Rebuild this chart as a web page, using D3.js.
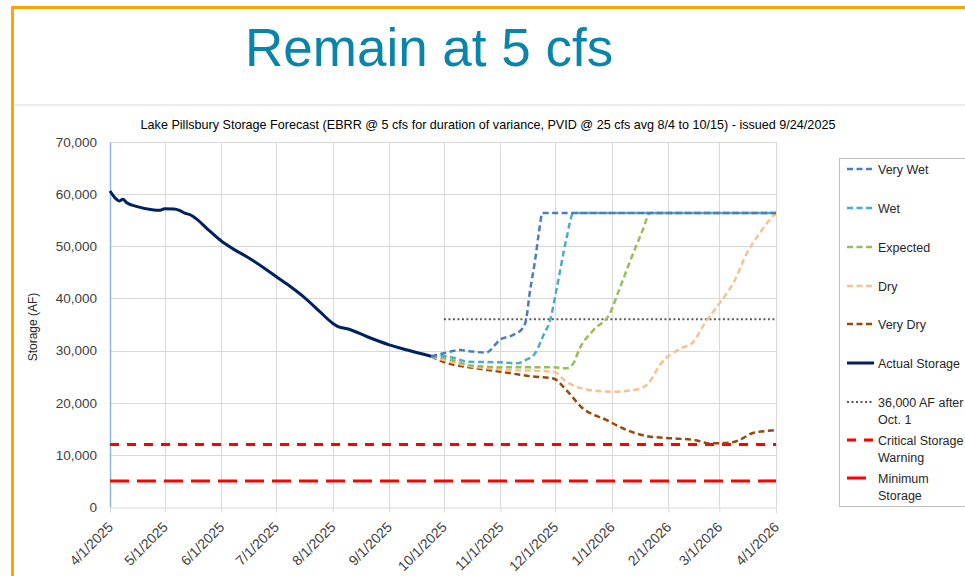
<!DOCTYPE html>
<html>
<head>
<meta charset="utf-8">
<script src="https://cdn.jsdelivr.net/npm/d3@7"></script>
<style>
  html, body { margin: 0; padding: 0; background: #fff; }
  body { font-family: "Liberation Sans", Arial, sans-serif; }
</style>
</head>
<body>
<div id="container"><svg></svg></div>
<script>
let width = 965, height = 576;

// chart data (date, acre-feet)
let actualStorage = [
  ["2025-04-01", 60600], ["2025-04-04", 59200], ["2025-04-06", 58700], ["2025-04-08", 59000],
  ["2025-04-10", 58400], ["2025-04-16", 57600], ["2025-04-25", 56950], ["2025-04-28", 56900],
  ["2025-05-01", 57200], ["2025-05-06", 57150], ["2025-05-09", 56900], ["2025-05-12", 56350],
  ["2025-05-15", 56050], ["2025-05-18", 55350], ["2025-05-24", 53450], ["2025-06-01", 51000],
  ["2025-06-07", 49600], ["2025-06-15", 48000], ["2025-06-24", 45950], ["2025-07-01", 44200],
  ["2025-07-09", 42250], ["2025-07-16", 40350], ["2025-07-25", 37450], ["2025-08-01", 35250],
  ["2025-08-04", 34600], ["2025-08-10", 34100], ["2025-08-20", 32650], ["2025-09-01", 31100],
  ["2025-09-11", 30100], ["2025-09-24", 28900]
];
let veryWet = [
  ["2025-09-24", 28900], ["2025-10-01", 29500], ["2025-10-10", 30100], ["2025-10-17", 29800],
  ["2025-10-24", 29600], ["2025-11-01", 32150], ["2025-11-08", 33000], ["2025-11-13", 34250],
  ["2025-11-15", 35850], ["2025-11-17", 41000], ["2025-11-20", 47400], ["2025-11-22", 52500],
  ["2025-11-24", 56400], ["2026-04-01", 56400]
];
let wet = [
  ["2025-09-24", 28900], ["2025-10-01", 28950], ["2025-10-15", 27850], ["2025-11-01", 27750],
  ["2025-11-10", 27550], ["2025-11-15", 28200], ["2025-11-20", 29500], ["2025-11-25", 33300],
  ["2025-11-28", 35550], ["2025-12-02", 42250], ["2025-12-07", 51200], ["2025-12-11", 56400],
  ["2026-04-01", 56400]
];
let expected = [
  ["2025-09-24", 28900], ["2025-10-01", 28550], ["2025-10-17", 27100], ["2025-11-03", 26800],
  ["2025-11-30", 26800], ["2025-12-07", 26600], ["2025-12-11", 27550], ["2025-12-14", 30100],
  ["2025-12-22", 33950], ["2025-12-31", 37150], ["2026-01-05", 41600], ["2026-01-12", 48000],
  ["2026-01-18", 53150], ["2026-01-22", 56400], ["2026-04-01", 56400]
];
let dry = [
  ["2025-09-24", 28900], ["2025-10-01", 28200], ["2025-10-17", 26900], ["2025-11-03", 26350],
  ["2025-11-30", 25950], ["2025-12-07", 24050], ["2025-12-18", 22550], ["2026-01-01", 22100],
  ["2026-01-15", 22550], ["2026-01-21", 23700], ["2026-01-28", 27550], ["2026-02-08", 30450],
  ["2026-02-14", 31400], ["2026-02-21", 35250], ["2026-03-01", 39050], ["2026-03-09", 43200],
  ["2026-03-16", 48650], ["2026-03-23", 52500], ["2026-03-31", 56000], ["2026-04-01", 56300]
];
let veryDry = [
  ["2025-09-24", 28900], ["2025-10-01", 27800], ["2025-10-17", 26700], ["2025-11-01", 25950],
  ["2025-11-17", 25100], ["2025-11-30", 24650], ["2025-12-07", 22450], ["2025-12-16", 18950],
  ["2025-12-29", 16700], ["2026-01-07", 15100], ["2026-01-20", 13600], ["2026-02-04", 13150],
  ["2026-02-15", 12850], ["2026-02-24", 12200], ["2026-03-07", 12350], ["2026-03-12", 12850],
  ["2026-03-19", 14150], ["2026-03-31", 14750], ["2026-04-01", 14800]
];
let targetAfterOct = [["2025-10-01", 36000], ["2026-04-01", 36000]];
let criticalStorage = [["2025-04-01", 12000], ["2026-04-01", 12000]];
let minimumStorage = [["2025-04-01", 5000], ["2026-04-01", 5000]];

let yTicks = [0, 10000, 20000, 30000, 40000, 50000, 60000, 70000];
let xTickDates = ["2025-04-01", "2025-05-01", "2025-06-01", "2025-07-01", "2025-08-01", "2025-09-01",
  "2025-10-01", "2025-11-01", "2025-12-01", "2026-01-01", "2026-02-01", "2026-03-01", "2026-04-01"];

let parse = d3.timeParse("%Y-%m-%d");

// series drawn in this order, legend in legendOrder
let series = [
  {name: "Minimum Storage", data: minimumStorage, color: "#ff0000", width: 3, dash: "19,8"},
  {name: "Critical Storage Warning", data: criticalStorage, color: "#ff0000", width: 3, dash: "9,8"},
  {name: "36,000 AF after Oct. 1", data: targetAfterOct, color: "#595959", width: 2, dash: "2,2.5"},
  {name: "Very Dry", data: veryDry, color: "#984807", width: 2.5, dash: "6,3.5"},
  {name: "Dry", data: dry, color: "#fac090", width: 2.5, dash: "6,3.5"},
  {name: "Expected", data: expected, color: "#9bbb59", width: 2.5, dash: "6,3.5"},
  {name: "Wet", data: wet, color: "#4bacc6", width: 2.5, dash: "6,3.5"},
  {name: "Very Wet", data: veryWet, color: "#4a7ebb", width: 2.5, dash: "6,3.5"},
  {name: "Actual Storage", data: actualStorage, color: "#002060", width: 3, dash: null}
];
let legendOrder = [
  {key: "Very Wet", lines: ["Very Wet"]},
  {key: "Wet", lines: ["Wet"]},
  {key: "Expected", lines: ["Expected"]},
  {key: "Dry", lines: ["Dry"]},
  {key: "Very Dry", lines: ["Very Dry"]},
  {key: "Actual Storage", lines: ["Actual Storage"]},
  {key: "36,000 AF after Oct. 1", lines: ["36,000 AF after", "Oct. 1"]},
  {key: "Critical Storage Warning", lines: ["Critical Storage", "Warning"]},
  {key: "Minimum Storage", lines: ["Minimum", "Storage"]}
];

let svg = d3.select("#container").select("svg")
  .attr("width", width)
  .attr("height", height);

// slide frame
svg.append("rect").attr("width", width).attr("height", height).attr("fill", "#fff");
svg.append("line").attr("x1", 15).attr("x2", width).attr("y1", 105).attr("y2", 105)
  .attr("stroke", "#d9d9d9").attr("stroke-width", 1);
svg.append("path").attr("d", `M12.5,${height} L12.5,7.5 L${width},7.5`)
  .attr("fill", "none").attr("stroke", "#ffa500").attr("stroke-width", 3);

svg.append("text").attr("x", 245).attr("y", 66)
  .attr("font-size", 53).attr("fill", "#0a84a8")
  .text("Remain at 5 cfs");

// plot area
let plotL = 110, plotR = 776, plotT = 142, plotB = 507;
let x = d3.scaleTime().domain([parse("2025-04-01"), parse("2026-04-01")]).range([plotL, plotR]);
let y = d3.scaleLinear().domain([0, 70000]).range([plotB, plotT]);

svg.append("text").attr("x", 488).attr("y", 129)
  .attr("text-anchor", "middle").attr("font-size", 12.6).attr("fill", "#000")
  .text("Lake Pillsbury Storage Forecast (EBRR @ 5 cfs for duration of variance, PVID @ 25 cfs avg 8/4 to 10/15) - issued 9/24/2025");

// gridlines
let grid = svg.append("g").attr("stroke", "#d9d9d9").attr("stroke-width", 1);
grid.selectAll("line.h").data(yTicks.slice(1)).join("line").attr("class", "h")
  .attr("x1", plotL).attr("x2", plotR)
  .attr("y1", d => Math.round(y(d)) + 0.5).attr("y2", d => Math.round(y(d)) + 0.5);
grid.selectAll("line.v").data(xTickDates.slice(1)).join("line").attr("class", "v")
  .attr("x1", d => Math.round(x(parse(d))) + 0.5).attr("x2", d => Math.round(x(parse(d))) + 0.5)
  .attr("y1", plotT).attr("y2", plotB);

// x axis
let xAxis = svg.append("g").attr("transform", `translate(0,${plotB + 0.5})`)
  .call(d3.axisBottom(x).tickValues(xTickDates.map(parse)).tickSize(5)
    .tickFormat(d3.timeFormat("%-m/%-d/%Y")));
xAxis.select(".domain").attr("stroke", "#d9d9d9");
xAxis.selectAll(".tick line").attr("stroke", "#d9d9d9");
xAxis.selectAll(".tick text")
  .attr("font-family", "Liberation Sans, Arial, sans-serif")
  .attr("font-size", 14).attr("fill", "#404040")
  .attr("text-anchor", "end")
  .attr("transform", "translate(-3,12) rotate(-45)")
  .attr("x", 0).attr("y", 0).attr("dx", "-0.1em").attr("dy", "0.75em");

// y axis
let yAxis = svg.append("g").attr("transform", `translate(${plotL},0)`)
  .call(d3.axisLeft(y).tickValues(yTicks).tickSize(0).tickPadding(13)
    .tickFormat(d3.format(",")));
yAxis.select(".domain").attr("stroke", "#8eb4e3").attr("stroke-width", 1.5);
yAxis.selectAll(".tick text")
  .attr("font-family", "Liberation Sans, Arial, sans-serif")
  .attr("font-size", 13.5).attr("fill", "#404040");

svg.append("text")
  .attr("transform", "translate(37,327) rotate(-90)")
  .attr("text-anchor", "middle").attr("font-size", 12).attr("fill", "#262626")
  .text("Storage (AF)");

// series lines
let lineGen = d3.line()
  .x(d => x(parse(d[0])))
  .y(d => y(d[1]))
  .curve(d3.curveMonotoneX);

svg.append("g").selectAll("path")
  .data(series)
  .join("path")
  .attr("d", d => lineGen(d.data))
  .attr("fill", "none")
  .attr("stroke", d => d.color)
  .attr("stroke-width", d => d.width)
  .attr("stroke-dasharray", d => d.dash)
  .attr("stroke-linejoin", "round");

// legend
let legend = svg.append("g");
legend.append("rect").attr("x", 839.5).attr("y", 158.5).attr("width", 140).attr("height", 348)
  .attr("fill", "#fff").attr("stroke", "#bfbfbf");
let legendY = [169, 208, 247, 286, 324, 363, 402, 440, 478];
let byName = {};
series.forEach(s => byName[s.name] = s);
legendOrder.forEach((item, i) => {
  let s = byName[item.key];
  let ly = legendY[i];
  legend.append("line").attr("x1", 847).attr("x2", 874).attr("y1", ly).attr("y2", ly)
    .attr("stroke", s.color).attr("stroke-width", s.width)
    .attr("stroke-dasharray", s.dash);
  item.lines.forEach((t, j) => {
    legend.append("text").attr("x", 878).attr("y", ly + 4.5 + j * 17.5)
      .attr("font-size", 12.5).attr("fill", "#262626").text(t);
  });
});
</script>
</body>
</html>
